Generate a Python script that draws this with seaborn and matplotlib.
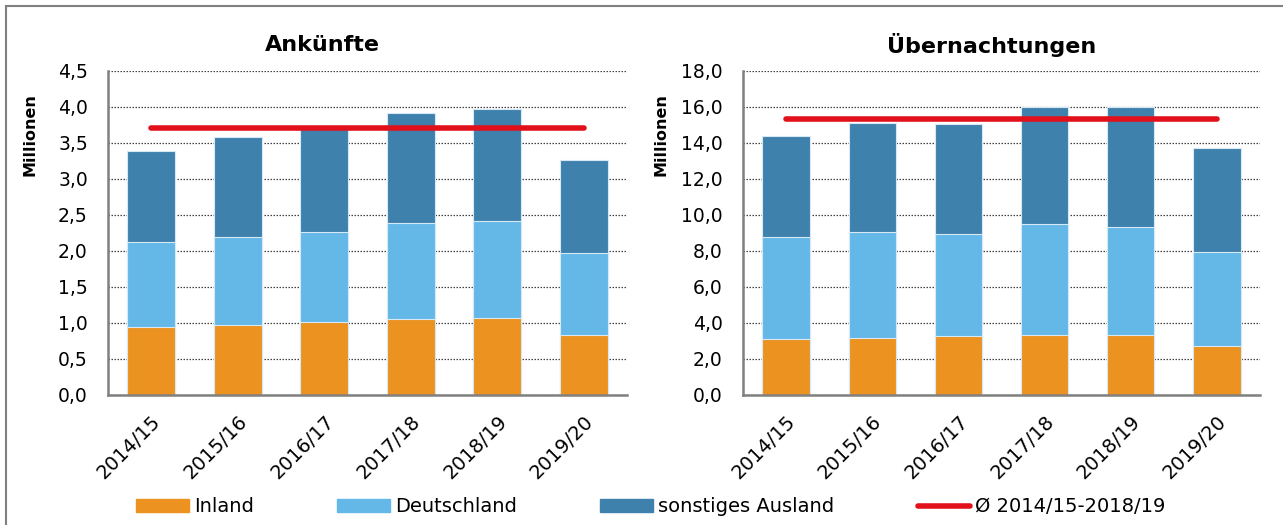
import matplotlib
matplotlib.use('Agg')
from matplotlib import pyplot as plt
from matplotlib.patches import Patch, Rectangle
from matplotlib.lines import Line2D
from matplotlib.ticker import FuncFormatter, MultipleLocator
import seaborn as sns
import numpy as np

# data (millions)
seasons = ['2014/15', '2015/16', '2016/17', '2017/18', '2018/19', '2019/20']

ank_inland = [0.94, 0.97, 1.02, 1.05, 1.07, 0.84]
ank_deutschland = [1.19, 1.23, 1.25, 1.34, 1.34, 1.13]
ank_ausland = [1.26, 1.38, 1.42, 1.52, 1.56, 1.29]
ank_avg = 3.71

ueb_inland = [3.09, 3.19, 3.26, 3.35, 3.35, 2.74]
ueb_deutschland = [5.67, 5.88, 5.70, 6.17, 6.00, 5.20]
ueb_ausland = [5.62, 6.06, 6.09, 6.48, 6.65, 5.77]
ueb_avg = 15.32

series_names = ['Inland', 'Deutschland', 'sonstiges Ausland']
avg_label = 'Ø 2014/15-2018/19'

c_inland = '#ec9220'
c_de = '#63b8e8'
c_aus = '#3f81ad'
c_red = '#e1101a'
c_grey = '#808080'

sns.set_style('white')
plt.rcParams['font.family'] = ['DejaVu Sans']
plt.rcParams['text.color'] = 'black'

W, H = 1283, 525
fig = plt.figure(figsize=(W / 100, H / 100), dpi=100)


def fx(px):
    return px / W


def fy(py):
    return 1 - py / H


def panel(x0, x1, inland, de, aus, avg, ymax, step):
    ax = fig.add_axes([fx(x0), fy(395), fx(x1) - fx(x0), fy(71) - fy(395)])
    inland = np.array(inland)
    mid = inland + np.array(de)
    top = mid + np.array(aus)
    # stacked look: draw cumulative totals from the top down
    for vals, col in [(top, c_aus), (mid, c_de), (inland, c_inland)]:
        sns.barplot(x=seasons, y=vals, color=col, width=0.55, ax=ax,
                    edgecolor='#d6e9f5', linewidth=0.8, saturation=1)
    ax.plot([0, len(seasons) - 1], [avg, avg], color=c_red, lw=4,
            solid_capstyle='round', zorder=5)
    ax.set_ylim(0, ymax)
    ax.set_xlim(-0.5, len(seasons) - 0.5)
    ax.yaxis.set_major_locator(MultipleLocator(step))
    ax.yaxis.set_major_formatter(FuncFormatter(lambda v, p: f'{v:.1f}'.replace('.', ',')))
    ax.grid(axis='y', color='#404040', linestyle=(0, (1.2, 1.2)), lw=0.9)
    ax.set_axisbelow(True)
    for s in ['top', 'right']:
        ax.spines[s].set_visible(False)
    for s in ['left', 'bottom']:
        ax.spines[s].set_color(c_grey)
        ax.spines[s].set_linewidth(1.8)
        ax.spines[s].set_zorder(6)
    ax.tick_params(axis='y', length=4.5, width=1.8, color=c_grey, labelsize=13.5,
                   pad=10, labelcolor='black')
    ax.set_xticks(range(len(seasons)))
    ax.set_xticklabels(seasons, rotation=45, ha='right', rotation_mode='anchor')
    ax.tick_params(axis='x', which='major', length=0, labelsize=14, pad=12,
                   labelcolor='black')
    ax.set_xticks(np.arange(-0.5, len(seasons), 1), minor=True)
    ax.tick_params(axis='x', which='minor', length=6, width=1.8, color=c_grey)
    ax.set_xlabel('')
    ax.set_ylabel('')
    return ax


panel(108, 627, ank_inland, ank_deutschland, ank_ausland, ank_avg, 4.5, 0.5)
panel(743, 1260, ueb_inland, ueb_deutschland, ueb_ausland, ueb_avg, 18, 2)

fig.text(fx(322), fy(45), 'Ankünfte', ha='center', va='center',
         fontsize=16, fontweight='bold')
fig.text(fx(992), fy(45), 'Übernachtungen', ha='center', va='center',
         fontsize=16, fontweight='bold')
fig.text(fx(30), fy(135), 'Millionen', rotation=90, ha='center', va='center',
         fontsize=11.5, fontweight='bold')
fig.text(fx(661), fy(135), 'Millionen', rotation=90, ha='center', va='center',
         fontsize=11.5, fontweight='bold')

handles = [Patch(color=c_inland), Patch(color=c_de), Patch(color=c_aus),
           Line2D([], [], color=c_red, lw=4)]
fig.legend(handles, series_names + [avg_label], ncol=4, loc='center',
           bbox_to_anchor=(fx(651), fy(507)), frameon=False, fontsize=14,
           handlelength=2.7, handleheight=0.62, handletextpad=0.26,
           columnspacing=4.3)

fig.add_artist(Rectangle((fx(6), -0.1), 1.2, fy(6) + 0.1, transform=fig.transFigure,
                         fill=False, edgecolor=c_grey, lw=1.5))

fig.savefig('out.png', dpi=100)
